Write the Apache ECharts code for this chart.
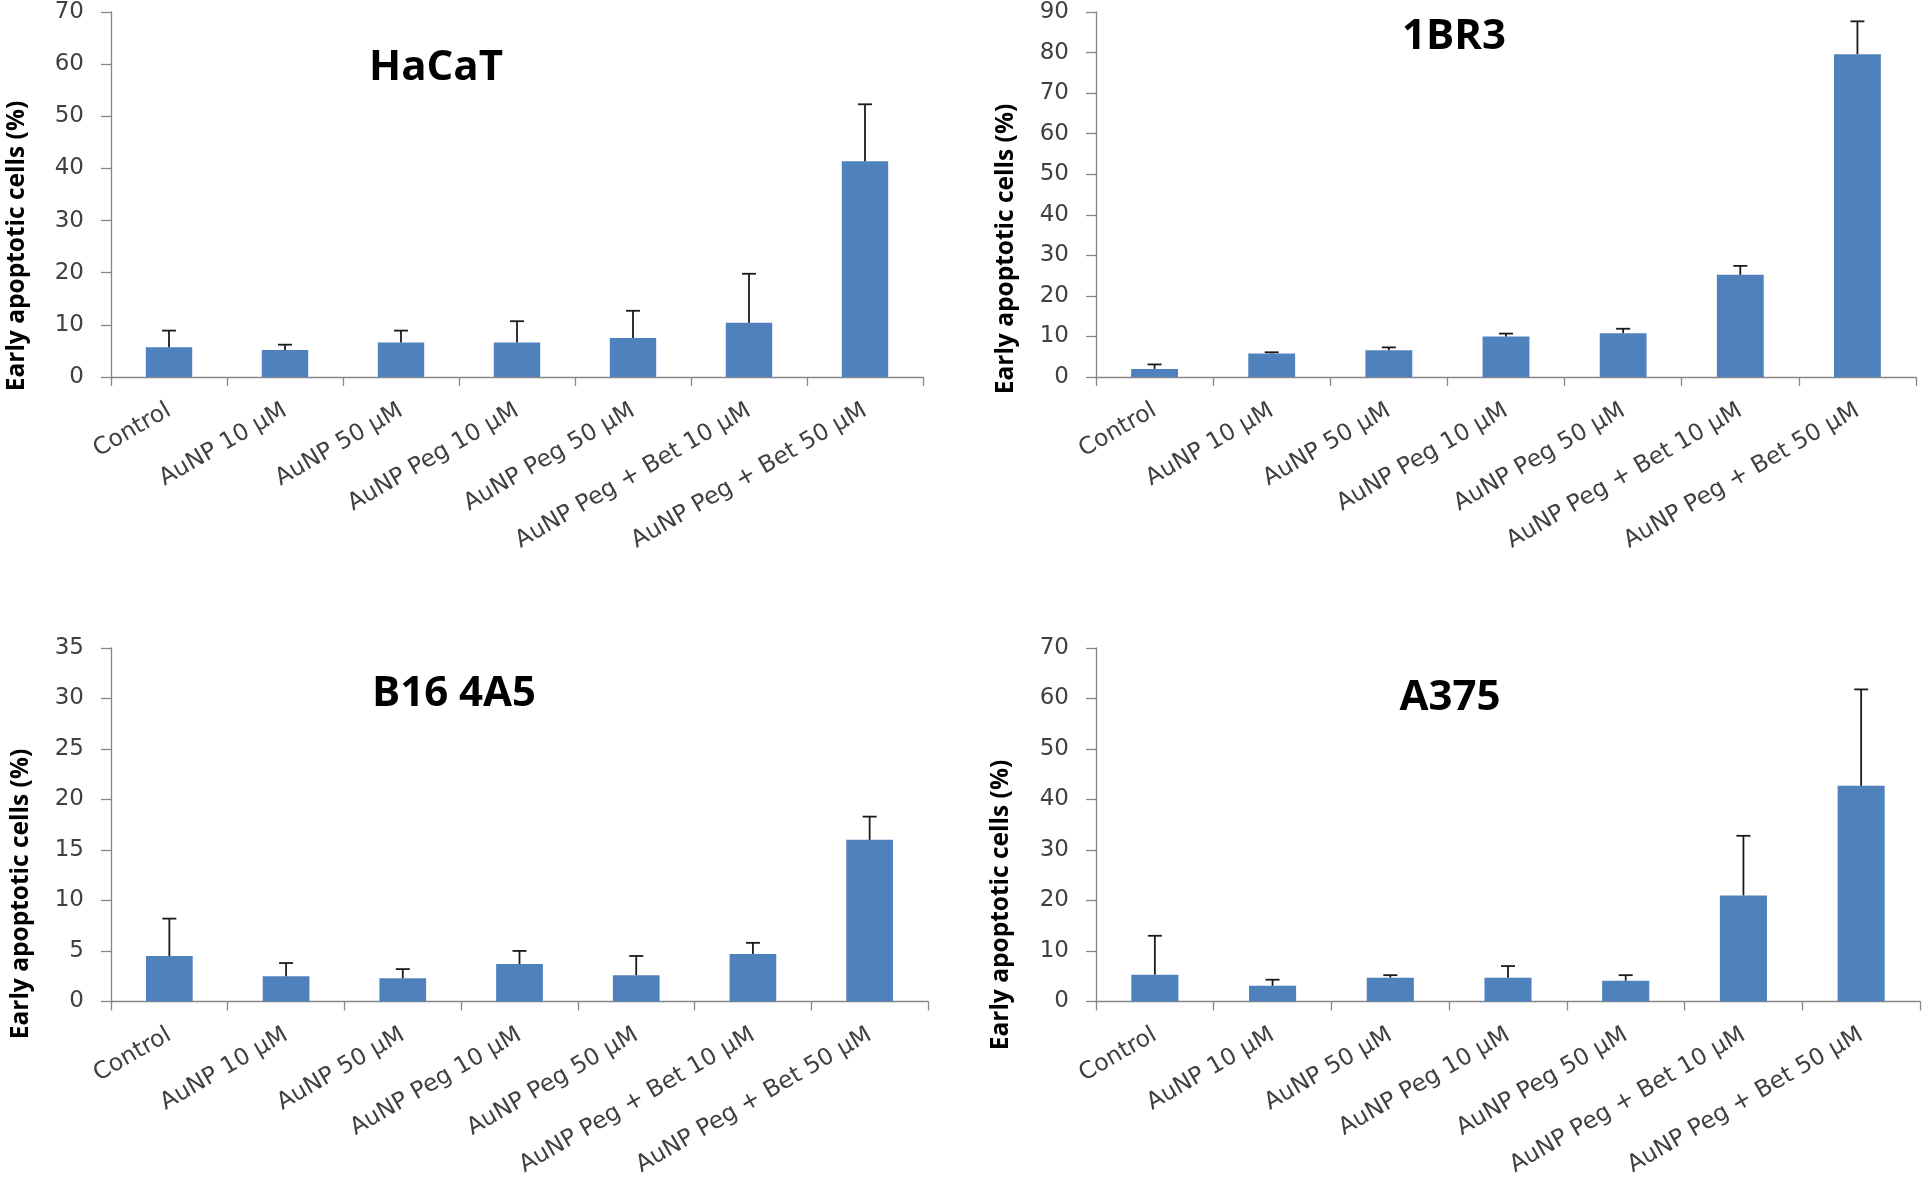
<!DOCTYPE html>
<html>
<head>
<meta charset="utf-8">
<script src="https://cdn.jsdelivr.net/npm/echarts@6/dist/echarts.min.js"></script>
<style>
  html, body { margin: 0; padding: 0; background: #fff; }
  #chart { width: 1925px; height: 1179px; }
</style>
</head>
<body>
<div id="chart"></div>
<script>
// four panels of early apoptotic cells, bars with upper error bars
const categories = ['Control', 'AuNP 10 µM', 'AuNP 50 µM', 'AuNP Peg 10 µM', 'AuNP Peg 50 µM',
  'AuNP Peg + Bet 10 µM', 'AuNP Peg + Bet 50 µM'];

const hacatMean = [5.7, 5.2, 6.6, 6.6, 7.5, 10.4, 41.4];
const hacatErr  = [3.2, 1.0, 2.3, 4.1, 5.2, 9.4, 10.9];

const br3Mean = [2.0, 5.8, 6.6, 10.0, 10.8, 25.2, 79.6];
const br3Err  = [1.1, 0.3, 0.7, 0.7, 1.1, 2.2, 8.1];

const b16Mean = [4.5, 2.5, 2.3, 3.7, 2.6, 4.7, 16.0];
const b16Err  = [3.7, 1.3, 0.9, 1.3, 1.9, 1.1, 2.3];

const a375Mean = [5.3, 3.1, 4.7, 4.7, 4.1, 21.0, 42.7];
const a375Err  = [7.7, 1.2, 0.5, 2.3, 1.1, 11.8, 19.1];

const panelTitles = ['HaCaT', '1BR3', 'B16 4A5', 'A375'];
const yMax = [70, 90, 35, 70];
const yStep = [10, 10, 5, 10];
const yName = 'Early apoptotic cells (%)';

const panels = [
  { mean: hacatMean, err: hacatErr },
  { mean: br3Mean, err: br3Err },
  { mean: b16Mean, err: b16Err },
  { mean: a375Mean, err: a375Err },
];

const grids = [
  { left: 111, top: 12, width: 812, height: 365 },
  { left: 1096, top: 12, width: 820, height: 365 },
  { left: 111, top: 648, width: 817, height: 354 },
  { left: 1096, top: 648, width: 824, height: 354 },
];
const titlePos = [[436, 68], [1454, 37], [454, 694], [1450, 698]];
const yNamePos = [[17, 246], [1006, 249], [21, 894], [1001, 905]];

const axisColor = '#868686';
const textColor = '#404040';

function renderErr(params, api) {
  const x = api.value(0), m = api.value(1), e = api.value(2);
  const p0 = api.coord([x, m]);
  const p1 = api.coord([x, m + e]);
  const half = 7;
  const style = { stroke: '#1a1a1a', lineWidth: 1.8 };
  return {
    type: 'group',
    children: [
      { type: 'line', shape: { x1: p0[0], y1: p0[1], x2: p1[0], y2: p1[1] }, style },
      { type: 'line', shape: { x1: p1[0] - half, y1: p1[1], x2: p1[0] + half, y2: p1[1] }, style },
    ],
  };
}

const xAxis = [], yAxis = [], series = [], graphic = [];
panels.forEach((p, i) => {
  xAxis.push({
    type: 'category', gridIndex: i, data: categories, boundaryGap: true,
    axisLine: { show: true, lineStyle: { color: axisColor, width: 1.3 } },
    axisTick: { show: true, interval: 0, length: 9, lineStyle: { color: axisColor, width: 1.3 } },
    axisLabel: { interval: 0, rotate: 30, margin: 32, fontFamily: 'DejaVu Sans', fontSize: 23.5, color: textColor },
  });
  yAxis.push({
    type: 'value', gridIndex: i, min: 0, max: yMax[i], interval: yStep[i],
    axisLine: { show: true, lineStyle: { color: axisColor, width: 1.3 } },
    axisTick: { show: true, length: 10, lineStyle: { color: axisColor, width: 1.3 } },
    splitLine: { show: false },
    axisLabel: { margin: 27, fontFamily: 'DejaVu Sans', fontSize: 23, color: textColor },
  });
  series.push({
    type: 'bar', xAxisIndex: i, yAxisIndex: i, data: p.mean, barWidth: '40%',
    itemStyle: { color: '#4F81BD' }, silent: true,
  });
  series.push({
    type: 'custom', xAxisIndex: i, yAxisIndex: i, renderItem: renderErr,
    data: p.mean.map((m, k) => [k, m, p.err[k]]),
    encode: { x: 0, y: [1, 2] }, silent: true, z: 3,
  });
  graphic.push({
    type: 'text', x: titlePos[i][0], y: titlePos[i][1],
    style: { text: panelTitles[i], font: 'bold 42px "Open Sans"', fill: '#000',
      textAlign: 'center', textVerticalAlign: 'middle', verticalAlign: 'middle' },
  });
  graphic.push({
    type: 'text', x: yNamePos[i][0], y: yNamePos[i][1], rotation: Math.PI / 2,
    style: { text: yName, font: 'bold 24.5px "Open Sans"', fill: '#000',
      textAlign: 'center', textVerticalAlign: 'middle', verticalAlign: 'middle' },
  });
});

const chart = echarts.init(document.getElementById('chart'), null, { renderer: 'canvas' });
chart.setOption({
  animation: false,
  backgroundColor: '#fff',
  grid: grids,
  xAxis, yAxis, series, graphic,
});
</script>
</body>
</html>
